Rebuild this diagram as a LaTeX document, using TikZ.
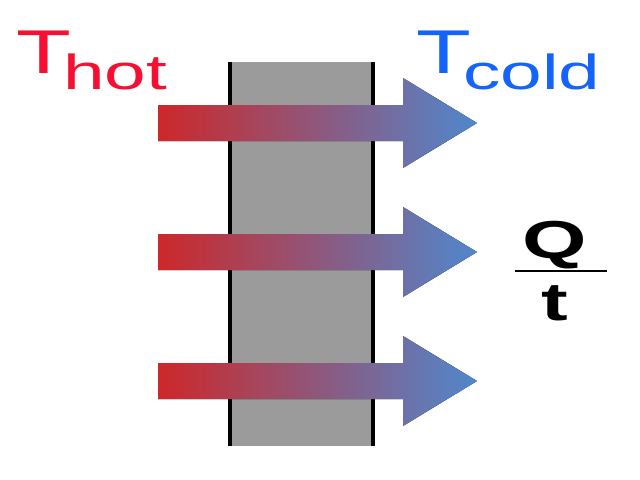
\documentclass[tikz,border=0pt]{standalone}
\usepackage{fontspec}
\setmainfont{Liberation Sans}
\definecolor{hotred}{RGB}{245,15,50}
\definecolor{coldblue}{RGB}{20,100,250}
\definecolor{arrowred}{RGB}{205,40,42}
\definecolor{arrowblue}{RGB}{80,135,205}
\definecolor{slabgray}{RGB}{155,155,155}
\tikzset{
  heatarrow/.style={left color=arrowred, right color=arrowblue, draw=none},
  slabedge/.style={line width=2.8pt, black},
  lbl/.style={inner sep=0pt, outer sep=0pt},
}
\newcommand{\hstretch}[2][1.45]{\scalebox{#1}[1]{#2}}
\begin{document}
\begin{tikzpicture}[x=0.025cm, y=-0.025cm]
\useasboundingbox (0,0) rectangle (640,480);
% slab
\fill[slabgray] (230,62) rectangle (373,446);
\draw[slabedge] (230,62) -- (230,446);
\draw[slabedge] (373,62) -- (373,446);
% arrows
\foreach \c/\n in {123/a1, 252/a2, 381/a3}{
  \coordinate (\n-tip) at (477,\c);
  \fill[heatarrow] (158,\c-18) -- (403,\c-18) -- (403,\c-45) -- (\n-tip)
     -- (403,\c+45) -- (403,\c+18) -- (158,\c+18) -- cycle;
}
% labels
\node[lbl, anchor=base west, text=hotred] (thot) at (16,73)
  {\hstretch{\fontsize{44}{44}\selectfont T}\kern-5.5pt\raisebox{-12pt}{\hstretch[1.52]{\fontsize{35}{35}\selectfont hot}}};
\node[lbl, anchor=base west, text=coldblue] (tcold) at (416,73)
  {\hstretch{\fontsize{44}{44}\selectfont T}\kern-5.5pt\raisebox{-12pt}{\hstretch[1.52]{\fontsize{35}{35}\selectfont cold}}};
\node[lbl, anchor=base] (Q) at (555,258) {\hstretch[1.55]{\fontsize{38}{38}\selectfont\bfseries Q}};
\node[lbl, anchor=base] (t) at (555,320) {\hstretch[1.5]{\fontsize{38}{38}\selectfont\bfseries t}};
\coordinate (fl) at (515,271);
\coordinate (fr) at (607,271);
\draw[line width=2pt] (fl) -- (fr);
\end{tikzpicture}
\end{document}
